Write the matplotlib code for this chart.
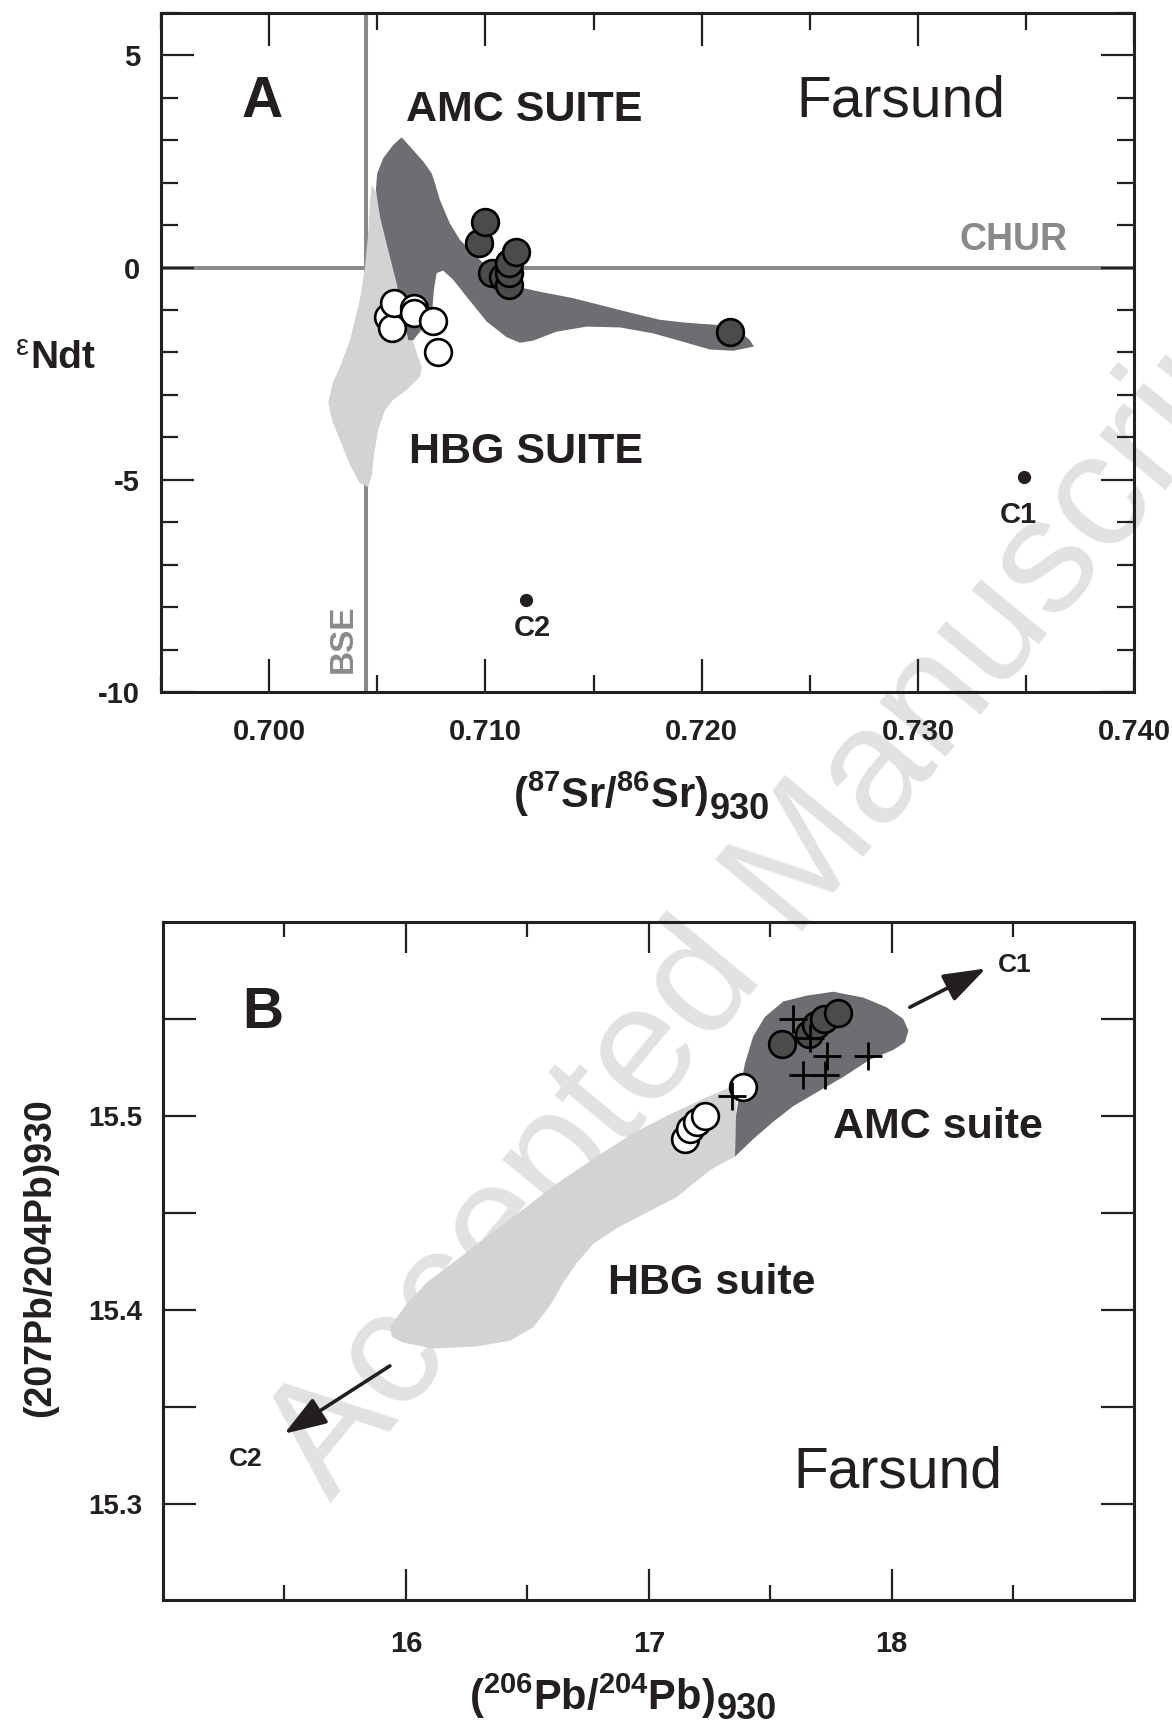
import matplotlib
matplotlib.use('Agg')
import matplotlib.pyplot as plt
from matplotlib.ticker import MultipleLocator, FixedLocator, FixedFormatter

plt.rcParams['font.family'] = ['Liberation Sans', 'DejaVu Sans']
plt.rcParams['mathtext.fontset'] = 'custom'
plt.rcParams['mathtext.rm'] = 'Liberation Sans'
plt.rcParams['mathtext.bf'] = 'Liberation Sans:bold'
plt.rcParams['mathtext.it'] = 'Liberation Sans:italic'

INK = '#231f20'
DARK = '#6d6e71'
LIGHT = '#d1d3d4'
REF = '#888a8c'

# ---- panel A : Sr - Nd ----
amc_sr = [0.7097, 0.7100, 0.7103, 0.7108, 0.7111, 0.7111, 0.7111, 0.7114, 0.7213]
amc_nd = [0.57, 1.08, -0.13, -0.21, -0.41, -0.13, 0.10, 0.37, -1.51]
hbg_sr = [0.7055, 0.7057, 0.7058, 0.7067, 0.7067, 0.7076, 0.7078]
hbg_nd = [-1.16, -1.43, -0.84, -0.96, -1.08, -1.25, -2.00]
c1_a = (0.7349, -4.93)
c2_a = (0.7119, -7.84)
chur = 0.0
bse = 0.7045

amc_field_sr = [0.70613, 0.70652, 0.70713, 0.70752, 0.70767, 0.70790, 0.70836, 0.70883,
                0.70960, 0.71052, 0.71145, 0.71252, 0.71406, 0.71560, 0.71684, 0.71807,
                0.71930, 0.72069, 0.72177, 0.72223, 0.72241, 0.72145, 0.72038, 0.71915,
                0.71776, 0.71622, 0.71468, 0.71329, 0.71221, 0.71160, 0.71098, 0.71006,
                0.70914, 0.70852, 0.70805, 0.70775, 0.70762, 0.70752, 0.70667, 0.70644,
                0.70621, 0.70590, 0.70551, 0.70513, 0.70494, 0.70500, 0.70528, 0.70574]
amc_field_nd = [3.07, 2.85, 2.50, 2.22, 1.99, 1.59, 1.04, 0.65,
                0.26, -0.21, -0.45, -0.57, -0.72, -0.92, -1.08, -1.23,
                -1.30, -1.35, -1.51, -1.71, -1.86, -1.96, -1.93, -1.75,
                -1.55, -1.41, -1.39, -1.51, -1.72, -1.77, -1.64, -1.27,
                -0.69, -0.29, -0.07, -0.13, -0.53, -1.16, -1.71, -1.71,
                -1.16, -0.37, 0.41, 1.20, 1.83, 2.22, 2.58, 2.89]

hbg_field_sr = [0.70475, 0.70513, 0.70582, 0.70628, 0.70665, 0.70683, 0.70706, 0.70698,
                0.70636, 0.70573, 0.70536, 0.70504, 0.70485, 0.70476, 0.70458, 0.70420,
                0.70374, 0.70328, 0.70291, 0.70274, 0.70296, 0.70328, 0.70374, 0.70420,
                0.70444, 0.70459, 0.70467]
hbg_field_nd = [1.95, 1.59, 0.18, -0.76, -1.71, -2.02, -2.34, -2.57,
                -2.88, -3.12, -3.36, -3.83, -4.42, -4.89, -5.17, -5.08,
                -4.65, -4.06, -3.59, -3.17, -2.70, -2.34, -1.71, -0.76,
                0.02, 0.81, 1.59]

# ---- panel B : Pb - Pb ----
amc_pb6 = [17.55, 17.66, 17.69, 17.72, 17.78]
amc_pb7 = [15.537, 15.542, 15.547, 15.550, 15.553]
hbg_pb6 = [17.15, 17.17, 17.20, 17.23, 17.39]
hbg_pb7 = [15.488, 15.493, 15.497, 15.500, 15.515]
kfs_pb6 = [17.595, 17.664, 17.732, 17.904, 17.636, 17.725, 17.341]
kfs_pb7 = [15.550, 15.540, 15.531, 15.531, 15.521, 15.521, 15.510]

amc_fieldB_x = [17.355, 17.359, 17.375, 17.396, 17.430, 17.478, 17.554, 17.650, 17.760,
                17.883, 17.979, 18.048, 18.069, 18.055, 18.007, 17.911, 17.800, 17.690,
                17.595, 17.513, 17.430]
amc_fieldB_y = [15.479, 15.500, 15.513, 15.527, 15.541, 15.551, 15.559, 15.562, 15.564,
                15.561, 15.556, 15.550, 15.544, 15.538, 15.534, 15.529, 15.520, 15.512,
                15.505, 15.497, 15.488]

hbg_fieldB_x = [15.935, 16.003, 16.086, 16.223, 16.346, 16.497, 16.621, 16.786, 16.936,
                17.074, 17.211, 17.321, 17.362, 17.355, 17.252, 17.183, 17.115, 17.005,
                16.868, 16.772, 16.703, 16.648, 16.593, 16.525, 16.429, 16.291, 16.113,
                15.989, 15.942]
hbg_fieldB_y = [15.391, 15.403, 15.414, 15.427, 15.439, 15.453, 15.465, 15.479, 15.491,
                15.500, 15.508, 15.514, 15.515, 15.479, 15.472, 15.465, 15.458, 15.451,
                15.442, 15.434, 15.424, 15.414, 15.402, 15.391, 15.384, 15.381, 15.380,
                15.383, 15.386]

c1_arrow = [(18.075, 15.556), (18.388, 15.576)]
c2_arrow = [(15.934, 15.371), (15.499, 15.336)]

fig = plt.figure(figsize=(11.72, 17.27), dpi=100)
axA = fig.add_axes([0.1372, 0.5993, 0.8308, 0.3932])
axB = fig.add_axes([0.1391, 0.07325, 0.8289, 0.3929])

for ax in (axA, axB):
    ax.set_facecolor('none')
    for s in ax.spines.values():
        s.set_linewidth(2.2)
        s.set_color(INK)
    ax.tick_params(which='both', direction='in', top=True, right=True,
                   width=1.6, color=INK, labelcolor=INK)

# ---------- A ----------
axA.axhline(chur, color=REF, lw=2.9, zorder=1)
axA.axvline(bse, color=REF, lw=2.9, zorder=1)
axA.fill(hbg_field_sr, hbg_field_nd, color=LIGHT, lw=0, zorder=2)
axA.fill(amc_field_sr, amc_field_nd, color=DARK, lw=0, zorder=3)
axA.scatter(hbg_sr, hbg_nd, s=370, c='white', edgecolors='black', linewidths=1.9, zorder=5)
axA.scatter(amc_sr, amc_nd, s=370, c='#4b4b4d', edgecolors='black', linewidths=1.9, zorder=5)
axA.plot([c1_a[0], c2_a[0]], [c1_a[1], c2_a[1]], 'o', ms=8.5, color=INK, lw=0, zorder=5)

axA.set_xlim(0.695, 0.740)
axA.set_ylim(-10, 6)
axA.xaxis.set_major_locator(FixedLocator([0.700, 0.710, 0.720, 0.730, 0.740]))
axA.xaxis.set_major_formatter(FixedFormatter(['0.700', '0.710', '0.720', '0.730', '0.740']))
axA.xaxis.set_minor_locator(MultipleLocator(0.005))
axA.yaxis.set_major_locator(FixedLocator([-10, -5, 0, 5]))
axA.yaxis.set_major_formatter(FixedFormatter(['-10', '-5', '0', '5']))
axA.yaxis.set_minor_locator(MultipleLocator(1))
axA.tick_params(which='major', length=24)
axA.tick_params(which='minor', length=12)
axA.tick_params(axis='x', pad=19)
axA.tick_params(axis='y', pad=15)
for lab in axA.get_xticklabels() + axA.get_yticklabels():
    lab.set_fontsize(21)
    lab.set_fontweight('bold')

axA.text(0.6997, 3.90, 'A', fontsize=41, fontweight='heavy', color=INK, ha='center', va='center')
axA.text(0.7118, 3.71, 'AMC SUITE', fontsize=31, fontweight='bold', color=INK, ha='center', va='center')
axA.text(0.7119, -4.34, 'HBG SUITE', fontsize=31, fontweight='bold', color=INK, ha='center', va='center')
axA.text(0.7292, 3.92, 'Farsund', fontsize=41, color=INK, ha='center', va='center')
axA.text(0.7344, 0.65, 'CHUR', fontsize=27, fontweight='bold', color=REF, ha='center', va='center')
axA.text(0.70345, -8.75, 'BSE', fontsize=24, fontweight='bold', color=REF, ha='center', va='center',
         rotation=90)
axA.text(0.73465, -5.84, 'C1', fontsize=21, fontweight='bold', color=INK, ha='center', va='center')
axA.text(0.71215, -8.49, 'C2', fontsize=21, fontweight='bold', color=INK, ha='center', va='center')

axA.text(-0.1006, 0.492, 'Ndt', transform=axA.transAxes, fontsize=28, fontweight='bold',
         color=INK, ha='center', va='center')
axA.text(-0.1425, 0.508, '\u03b5', transform=axA.transAxes, fontsize=21,
         color=INK, ha='center', va='center')
xa = axA.text(0.462, -0.171, r'$\mathbf{(^{87}Sr/^{86}Sr)}$', transform=axA.transAxes,
              fontsize=30, color=INK, ha='center', va='baseline')
axA.annotate('930', xy=(1, 0), xycoords=xa, xytext=(1, -6), textcoords='offset points',
             fontsize=26, fontweight='bold', color=INK, ha='left', va='bottom')

# ---------- B ----------
axB.fill(hbg_fieldB_x, hbg_fieldB_y, color=LIGHT, lw=0, zorder=2)
axB.fill(amc_fieldB_x, amc_fieldB_y, color=DARK, lw=0, zorder=3)
axB.scatter(hbg_pb6, hbg_pb7, s=370, c='white', edgecolors='black', linewidths=1.9, zorder=5)
axB.scatter(amc_pb6, amc_pb7, s=370, c='#4b4b4d', edgecolors='black', linewidths=1.9, zorder=5)
axB.plot(kfs_pb6, kfs_pb7, '+', ms=20, mew=2.0, color='black', lw=0, zorder=6)

for (x0, y0), (x1, y1) in (c1_arrow, c2_arrow):
    axB.annotate('', xy=(x1, y1), xytext=(x0, y0),
                 arrowprops=dict(arrowstyle='-|>,head_length=26,head_width=9', mutation_scale=1,
                                 lw=2.6, color=INK, shrinkA=0, shrinkB=0))
axB.text(18.505, 15.578, 'C1', fontsize=19, fontweight='bold', color=INK, ha='center', va='center')
axB.text(15.340, 15.323, 'C2', fontsize=19, fontweight='bold', color=INK, ha='center', va='center')

axB.set_xlim(15, 19)
axB.set_ylim(15.25, 15.6)
axB.xaxis.set_major_locator(FixedLocator([16, 17, 18]))
axB.xaxis.set_major_formatter(FixedFormatter(['16', '17', '18']))
axB.xaxis.set_minor_locator(FixedLocator([15.5, 16.5, 17.5, 18.5]))
pb_ticks = [15.30, 15.35, 15.40, 15.45, 15.50, 15.55]
axB.yaxis.set_major_locator(FixedLocator(pb_ticks))
axB.yaxis.set_major_formatter(FixedFormatter(['15.3', '', '15.4', '', '15.5', '']))
axB.tick_params(axis='y', which='major', length=24, pad=15)
axB.tick_params(axis='x', which='major', length=22, pad=21)
axB.tick_params(axis='x', which='minor', length=11)
for lab in axB.get_xticklabels():
    lab.set_fontsize(21)
    lab.set_fontweight('bold')
for lab in axB.get_yticklabels():
    lab.set_fontsize(20)
    lab.set_fontweight('bold')

axB.text(15.41, 15.553, 'B', fontsize=41, fontweight='heavy', color=INK, ha='center', va='center')
axB.text(18.19, 15.494, 'AMC suite', fontsize=31, fontweight='bold', color=INK, ha='center', va='center')
axB.text(17.258, 15.414, 'HBG suite', fontsize=31, fontweight='bold', color=INK, ha='center', va='center')
axB.text(18.025, 15.316, 'Farsund', fontsize=41, color=INK, ha='center', va='center')

axB.text(-0.126, 0.505, '(207Pb/204Pb)930', transform=axB.transAxes, rotation=90,
         fontsize=27, fontweight='bold', color=INK, ha='center', va='center')
xb = axB.text(0.442, -0.1614, r'$\mathbf{(^{206}Pb/^{204}Pb)}$', transform=axB.transAxes,
              fontsize=30, color=INK, ha='center', va='baseline')
axB.annotate('930', xy=(1, 0), xycoords=xb, xytext=(1, -4), textcoords='offset points',
             fontsize=26, fontweight='bold', color=INK, ha='left', va='bottom')

# watermark
fig.text(0.282, 0.1294, 'Accepted Manuscript', fontsize=118, color='#e2e2e2',
         rotation=50.5, rotation_mode='anchor', ha='left', va='baseline', zorder=-1)

fig.savefig('out.png', dpi=100)
